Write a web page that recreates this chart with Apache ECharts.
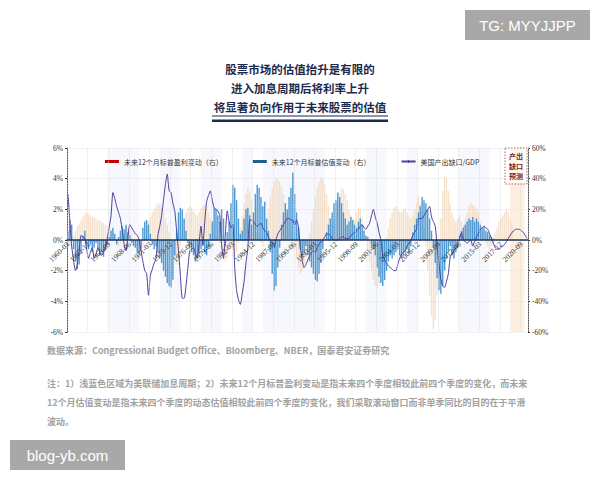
<!DOCTYPE html>
<html><head><meta charset="utf-8">
<script src="https://cdn.jsdelivr.net/npm/echarts@6/dist/echarts.min.js"></script>
<style>html,body{margin:0;padding:0;background:#fff}#c{width:600px;height:480px}</style>
</head><body><div id="c"></div>
<script>
// quarterly categories 1960-03 .. 2021-06
const startYear = 1960, nQuarters = 246;
const categories = [];
for (let i = 0; i < nQuarters; i++) {
  const y = startYear + Math.floor(i / 4);
  const m = ['03','06','09','12'][i % 4];
  categories.push(y + '-' + m);
}
// US output gap / GDP (%), left axis
const outputGap = [
 3.0,1.3,-0.4,-1.3,-2.0,-1.6,-0.6,0.3,0.2,0.1,
 -0.6,-1.2,-0.8,-0.5,-1.2,-0.9,-0.5,-0.8,-1.0,-0.8,
 -0.5,0.1,0.8,1.6,3.1,2.7,2.2,1.8,1.4,0.6,
 -0.3,-0.7,0.2,1.0,0.8,0.6,0.4,0.3,0.0,-0.7,
 -1.4,-2.0,-2.2,-3.6,-2.3,-1.9,-1.5,-1.2,0.3,0.9,
 1.6,2.6,3.6,4.3,3.2,3.1,2.4,1.9,0.6,-0.7,
 -2.3,-3.8,-3.8,-3.0,-1.8,-0.7,-0.6,-0.5,-0.9,-1.2,
 -0.2,0.9,-0.3,1.2,2.5,2.9,3.2,2.6,2.1,2.0,
 1.9,1.6,-0.3,-1.2,0.4,1.9,1.2,0.8,1.0,-1.8,
 -3.3,-3.9,-4.2,-3.5,-2.7,-1.5,-0.5,1.3,1.3,1.2,
 1.0,0.9,1.0,1.1,0.8,0.6,0.5,0.2,0.0,-0.2,
 -0.5,0.0,0.4,0.6,0.8,1.0,1.2,1.4,1.4,1.3,
 1.3,1.0,1.3,0.9,-0.5,-1.3,-1.8,-1.6,-1.3,-1.0,
 -0.8,-0.7,-0.8,-0.5,-0.3,-0.1,0.0,0.2,0.4,0.4,
 0.3,0.1,0.0,0.0,0.0,0.1,0.2,0.2,0.1,0.1,
 0.1,0.3,0.4,0.5,0.6,0.7,0.9,1.0,0.8,0.7,
 0.9,1.1,1.6,2.0,1.5,1.1,0.5,0.0,-1.0,-1.3,
 -1.5,-1.7,-1.8,-1.9,-2.0,-2.0,-1.6,-1.2,-0.9,-0.8,
 -0.7,-0.4,-0.2,0.0,0.3,0.5,0.7,1.4,1.4,1.4,
 1.6,1.8,2.0,2.2,1.5,1.2,0.9,-0.4,-1.5,-2.6,
 -3.0,-3.1,-2.7,-2.2,-1.1,-0.9,-0.7,-0.5,-0.4,0.1,
 0.5,0.0,-0.1,-0.2,-0.1,0.0,-0.4,-0.1,0.2,0.4,
 0.7,0.8,0.9,0.8,0.7,0.4,0.1,-0.2,-0.5,-0.6,
 -0.6,-0.5,-0.4,-0.3,-0.1,0.1,0.3,0.5,0.6,0.7,
 0.7,0.7,0.6,0.5,0.3,0.1
];
// next-12-month S&P earnings change (%), right axis
const earningsChg = [
 -2,-4,0,3,6,9,11,13,15,17,
 18,17,16,15,15,14,13,13,12,11,
 10,9,8,6,4,2,-2,-4,-3,2,
 5,7,8,6,4,-1,-5,-9,-12,-10,
 -5,2,8,12,15,18,20,22,24,23,
 21,18,14,10,5,-2,-8,-14,-16,-12,
 -4,6,14,18,21,22,21,19,17,16,
 18,20,22,23,21,18,14,10,6,3,
 1,-2,-6,-10,-14,-12,-8,-4,-6,-10,
 -8,-2,8,16,24,30,34,32,26,18,
 10,4,2,-2,-4,2,10,20,28,34,
 38,41,40,38,35,30,24,18,12,6,
 2,-6,-12,-18,-22,-20,-16,-10,-4,4,
 12,20,28,34,38,41,40,36,30,22,
 14,10,12,18,24,30,34,33,30,26,
 20,16,12,14,18,21,20,14,8,2,
 -6,-14,-20,-26,-30,-31,-28,-22,-14,-6,
 2,8,14,18,21,22,20,19,18,20,
 21,18,16,14,16,20,24,28,24,18,
 8,-4,-20,-36,-50,-58,-52,-36,-12,14,
 32,42,40,32,24,18,14,12,14,16,
 12,10,14,18,22,24,23,22,20,18,
 12,6,2,-2,-4,-6,-4,-2,4,8,
 12,14,16,18,20,18,14,10
];
// next-12-month S&P valuation change (%), right axis
const valuationChg = [
 6,13,10,-6,-14,-19,-16,-8,3,6,
 -4,-6,-3,-8,-5,-2,-6,-10,-8,-11,
 -7,-3,2,6,8,4,-3,2,6,9,
 7,10,5,3,-2,-4,-5,-8,-10,-6,
 8,12,13,10,4,-3,-6,-4,-8,-12,
 -15,-20,-24,-28,-30,-31,-26,-10,6,18,
 21,20,14,6,-2,-5,-8,-10,-14,-12,
 -9,-6,-4,-8,-10,-5,4,12,21,20,
 16,12,20,14,-4,5,12,24,36,34,
 26,14,4,6,14,20,21,16,10,18,
 30,36,34,28,22,25,14,6,-8,-22,
 -33,-30,-18,-5,10,18,24,20,28,34,
 44,30,18,8,-6,-10,-8,-4,-10,-14,
 -18,-22,-26,-27,-22,-15,-6,0,5,10,
 14,18,24,26,31,28,24,18,14,10,
 12,15,13,10,8,12,14,10,6,3,
 2,0,-3,-6,-10,-18,-24,-28,-30,-26,
 -20,-14,-10,-12,-10,-8,-6,-10,-12,-10,
 -8,-6,-8,-4,5,10,14,18,22,28,
 26,24,20,14,6,-5,-15,-25,-33,-35,
 -30,-20,-12,-8,-4,-10,-12,-8,-5,3,
 6,8,10,12,14,13,15,12,14,12,
 10,8,9,6,5,3,2,1,0,0
];
// Fed rate-hike periods (light blue bands) and output-gap forecast period
const hikeBands = [
 ['1961-03','1961-09'],['1963-06','1964-06'],['1965-09','1966-12'],['1968-03','1969-09'],
 ['1972-03','1974-06'],['1977-03','1980-03'],['1983-03','1984-09'],['1986-06','1990-09'],
 ['1992-09','1995-06'],['1998-12','2002-03'],['2004-09','2006-09'],['2012-06','2017-06']
];
const forecastBand = ['2018-12','2021-06'];
const leftTicks = {min:-6, max:6, step:2};
const rightTicks = {min:-60, max:60, step:20};
const seriesNames = ['未来12个月标普盈利变动（右）','未来12个月标普估值变动（右）','美国产出缺口/GDP'];

const pad = a => categories.map((_, i) => (i < a.length ? a[i] : null));

const gridTop = 148, gridBottomPx = 332;
const zeroOffset = -(gridBottomPx - gridTop) / 2; // place x axis at the 0% level

const chart = echarts.init(document.getElementById('c'), null, {renderer:'svg'});
const markData = hikeBands.map(b => [{xAxis:b[0], itemStyle:{color:'rgba(214,224,246,0.22)'}},{xAxis:b[1]}]);
markData.push([{xAxis:forecastBand[0], itemStyle:{color:'rgba(251,226,204,0.6)'}},{xAxis:forecastBand[1]}]);

const axisFont = {fontFamily:'Liberation Serif', fontSize:7.5, color:'#333'};
chart.setOption({
  animation:false,
  backgroundColor:'#fff',
  grid:{left:67, right:72, top:gridTop, bottom:480 - gridBottomPx, containLabel:false},
  legend:{
    left:100, top:153, itemWidth:14, itemHeight:3, itemGap:30,
    textStyle:{fontFamily:'Noto Sans CJK SC', fontSize:7, color:'#333'},
    data:[
      {name:seriesNames[0], icon:'rect', itemStyle:{color:'#c00000'}},
      {name:seriesNames[1], icon:'rect', itemStyle:{color:'#1f5f8a'}},
      {name:seriesNames[2]}
    ]
  },
  xAxis:{
    type:'category', data:categories, boundaryGap:true, position:'bottom', offset:zeroOffset, z:8,
    axisLine:{onZero:false, lineStyle:{color:'#1f3560', width:1.5}},
    axisTick:{show:false},
    axisLabel:Object.assign({interval:10, rotate:45, margin:3}, axisFont),
    splitLine:{show:true, interval:10, lineStyle:{color:'#dcdcdc', type:'dotted', width:0.8}}
  },
  yAxis:[
    {type:'value', min:leftTicks.min, max:leftTicks.max, interval:leftTicks.step,
     axisLine:{show:true, onZero:false, lineStyle:{color:'#333', width:1}},
     axisTick:{show:true, length:2, lineStyle:{color:'#333'}},
     axisLabel:Object.assign({formatter:'{value}%', margin:4}, axisFont),
     splitLine:{show:true, lineStyle:{color:'#dcdcdc', type:'dotted', width:0.8}}},
    {type:'value', min:rightTicks.min, max:rightTicks.max, interval:rightTicks.step,
     axisLine:{show:true, onZero:false, lineStyle:{color:'#333', width:1}},
     axisTick:{show:true, length:2, lineStyle:{color:'#333'}},
     axisLabel:Object.assign({formatter:'{value}%', margin:4}, axisFont),
     splitLine:{show:false}}
  ],
  series:[
    {name:seriesNames[0], type:'bar', yAxisIndex:1, data:pad(earningsChg),
     barWidth:'75%', barGap:'-100%', itemStyle:{color:'rgba(242,214,182,0.7)'},
     markArea:{silent:true, data:markData}, z:1},
    {name:seriesNames[1], type:'bar', yAxisIndex:1, data:pad(valuationChg),
     barWidth:'75%', barGap:'-100%', itemStyle:{color:'rgba(52,140,208,0.88)'}, z:2},
    {name:seriesNames[2], type:'line', yAxisIndex:0, data:pad(outputGap),
     symbol:'none', smooth:0.2, lineStyle:{color:'#4f3f9a', width:1}, itemStyle:{color:'#4f3f9a'}, z:3}
  ],
  graphic:[
    {type:'text', left:'center', top:63, style:{text:'股票市场的估值抬升是有限的', fontFamily:'Noto Sans CJK SC', fontSize:11.5, fontWeight:'bold', fill:'#1c2b4e'}},
    {type:'text', left:'center', top:82, style:{text:'进入加息周期后将利率上升', fontFamily:'Noto Sans CJK SC', fontSize:11.5, fontWeight:'bold', fill:'#1c2b4e'}},
    {type:'text', left:'center', top:101, style:{text:'将显著负向作用于未来股票的估值', fontFamily:'Noto Sans CJK SC', fontSize:11.5, fontWeight:'bold', fill:'#1c2b4e'}},
    {type:'rect', shape:{x:212, y:115.5, width:176, height:1}, style:{fill:'#1c2b4e'}},
    {type:'rect', shape:{x:212, y:119.5, width:176, height:2.5}, style:{fill:'#1c2b4e'}},
    {type:'rect', z:10, shape:{x:505, y:148, width:22, height:36}, style:{fill:'rgba(255,255,255,0.6)', stroke:'#a0433a', lineWidth:0.8, lineDash:[1.5,1.5]}},
    {type:'text', z:11, left:509, top:151, style:{text:'产出\n缺口\n预测', fontFamily:'Noto Sans CJK SC', fontSize:7, fontWeight:'bold', lineHeight:10, fill:'#7a1f1a'}},
    {type:'text', left:47, top:346, style:{text:'数据来源：Congressional Budget Office、Bloomberg、NBER，国泰君安证券研究', fontFamily:'Noto Sans CJK SC', fontSize:9, fontWeight:'bold', fill:'#a2a2a2'}},
    {type:'text', left:47, top:379, style:{text:'注：1）浅蓝色区域为美联储加息周期；2）未来12个月标普盈利变动是指未来四个季度相较此前四个季度的变化，而未来', fontFamily:'Noto Sans CJK SC', fontSize:9, fontWeight:'bold', fill:'#a2a2a2'}},
    {type:'text', left:47, top:398, style:{text:'12个月估值变动是指未来四个季度的动态估值相较此前四个季度的变化，我们采取滚动窗口而非单季同比的目的在于平滑', fontFamily:'Noto Sans CJK SC', fontSize:9, fontWeight:'bold', fill:'#a2a2a2'}},
    {type:'text', left:47, top:417, style:{text:'波动。', fontFamily:'Noto Sans CJK SC', fontSize:9, fontWeight:'bold', fill:'#a2a2a2'}},
    {type:'rect', shape:{x:465, y:10, width:125, height:30}, style:{fill:'#a8a8a8'}},
    {type:'text', x:527.5, y:25, style:{text:'TG: MYYJJPP', fontFamily:'Liberation Sans', fontSize:15, fill:'#fff', align:'center', verticalAlign:'middle'}},
    {type:'rect', shape:{x:10, y:440, width:115, height:30}, style:{fill:'#a8a8a8'}},
    {type:'text', x:67.5, y:455, style:{text:'blog-yb.com', fontFamily:'Liberation Sans', fontSize:15, fill:'#fff', align:'center', verticalAlign:'middle'}}
  ]
});
</script></body></html>
